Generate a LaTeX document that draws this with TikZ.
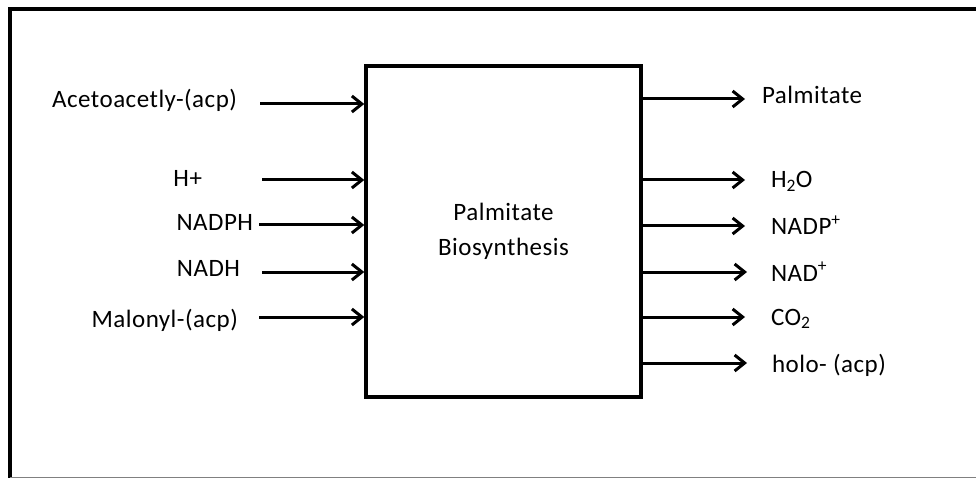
\documentclass[tikz,border=0pt]{standalone}
\usepackage{fontspec}
\setmainfont{Carlito}[LetterSpace=2.0]
\usetikzlibrary{arrows.meta}
\tikzset{
  lbl/.style={inner sep=0pt, outer sep=0pt, font=\fontsize{25}{35}\selectfont},
  arr/.style={line width=3pt, -{Straight Barb[length=10pt,width=16pt,line width=3pt]}},
  mainbox/.style={draw, line width=3.5pt, minimum width=275pt, minimum height=331pt, inner sep=0pt,
    align=center, font=\fontsize{25}{35}\selectfont}
}
\begin{document}
\begin{tikzpicture}[x=1pt,y=-1pt]
\useasboundingbox (0,0) rectangle (976,478);
% frame
\draw[line width=4pt] (10,478) -- (10,9.5) -- (976,9.5);
\draw[gray, line width=1.2pt] (10,477.4) -- (976,477.4);
% main box
\node[mainbox] (box) at (503.5,231.5) {Palmitate\\Biosynthesis};
% inputs
\node[lbl, anchor=base east] (acet) at (237,107.7) {Acetoacetly-(acp)};
\node[lbl, anchor=base east] (hplus) at (202,187) {H+};
\node[lbl, anchor=base east] (nadph) at (253,230) {NADPH};
\node[lbl, anchor=base east] (nadh) at (240,276) {NADH};
\node[lbl, anchor=base east] (malo) at (238,327.3) {Malonyl-(acp)};
\coordinate (i1) at (260,104);
\coordinate (i2) at (262,180);
\coordinate (i3) at (259,225);
\coordinate (i4) at (262,272);
\coordinate (i5) at (259,317);
\foreach \c in {i1,i2,i3,i4,i5}
  \draw[arr] (\c) -- (\c -| box.west);
% outputs
\coordinate (o1) at (745,99);
\coordinate (o2) at (745,180);
\coordinate (o3) at (745,226);
\coordinate (o4) at (747,272);
\coordinate (o5) at (745,317);
\coordinate (o6) at (747,363);
\foreach \c in {o1,o2,o3,o4,o5,o6}
  \draw[arr] (\c -| box.east) -- (\c);
\node[lbl, anchor=base west] (palm) at (762,103.3) {Palmitate};
\node[lbl, anchor=base west] (water) at (771,188) {H\textsubscript{2}O};
\node[lbl, anchor=base west] (nadp) at (771,235) {NADP\textsuperscript{+}};
\node[lbl, anchor=base west] (nad) at (771,281) {NAD\textsuperscript{+}};
\node[lbl, anchor=base west] (co2) at (771,325) {CO\textsubscript{2}};
\node[lbl, anchor=base west] (holo) at (772,372) {holo- (acp)};
\end{tikzpicture}
\end{document}
